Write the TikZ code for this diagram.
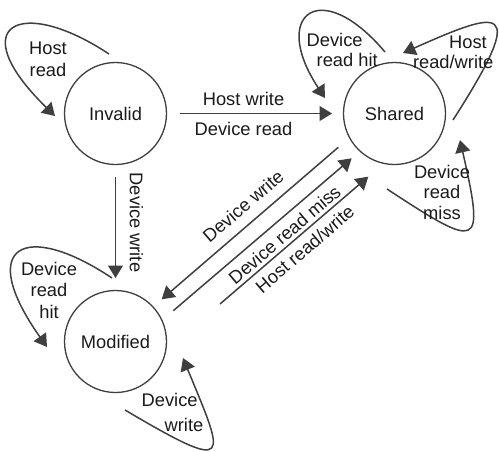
\documentclass[tikz,border=0pt]{standalone}
\usepackage{fontspec}
\setmainfont{Liberation Sans}
\usetikzlibrary{arrows.meta,calc}
\definecolor{ink}{HTML}{1A1A1A}
\definecolor{edge}{HTML}{3F3F3F}
\begin{document}
\begin{tikzpicture}[x=1pt,y=-1pt,
  font=\fontsize{18.3}{20.5}\selectfont,
  state/.style={circle, draw=edge, line width=1.3pt, minimum size=102pt, inner sep=0pt, text=ink},
  link/.style={draw=edge, line width=1.5pt, -{Triangle[length=12.5pt,width=15pt]}},
  lbl/.style={text=ink, inner sep=0pt},
  tag/.style={text=ink, inner xsep=0pt}]
\useasboundingbox (0,0) rectangle (499,451);

% states
\node[state] (inv) at (115.5,113.5) {Invalid};
\node[state] (sh)  at (394.5,113.5) {Shared};
\node[state] (mod) at (115.5,341.5) {Modified};

% end points of the transitions, kept a little away from the circles
\coordinate (i2s-a) at ([shift={(64.5,0)}]inv.center);
\coordinate (i2s-b) at ([shift={(-62.5,0)}]sh.center);
\coordinate (i2m-a) at ([shift={(0,63.5)}]inv.center);
\coordinate (i2m-b) at ([shift={(0,-63.5)}]mod.center);
\coordinate (s2m-a) at ([shift={(-56.2,33.8)}]sh.center);
\coordinate (s2m-b) at ([shift={(46.2,-42.2)}]mod.center);
\coordinate (m2s1-a) at ([shift={(57.8,-30.8)}]mod.center);
\coordinate (m2s1-b) at ([shift={(-42.8,44.8)}]sh.center);
\coordinate (m2s2-a) at ([shift={(104.5,-37.5)}]mod.center);
\coordinate (m2s2-b) at ([shift={(-26.2,63.2)}]sh.center);

% self loops
\coordinate (il-a) at ([shift={(-6.5,-59.5)}]inv.center);
\coordinate (il-b) at ([shift={(-60.5,2.5)}]inv.center);
\coordinate (sl1-a) at ([shift={(-9.5,-61.5)}]sh.center);
\coordinate (sl1-b) at ([shift={(-69.5,-15.5)}]sh.center);
\coordinate (sl2-a) at ([shift={(58.5,6.5)}]sh.center);
\coordinate (sl2-b) at ([shift={(8.5,-60.5)}]sh.center);
\coordinate (sl3-a) at ([shift={(-7.5,75.5)}]sh.center);
\coordinate (sl3-b) at ([shift={(65.5,26.5)}]sh.center);
\coordinate (ml1-a) at ([shift={(-3.5,-63.5)}]mod.center);
\coordinate (ml1-b) at ([shift={(-68.5,5.5)}]mod.center);
\coordinate (ml2-a) at ([shift={(9.5,68.5)}]mod.center);
\coordinate (ml2-b) at ([shift={(67.5,16.5)}]mod.center);

% straight transitions
\path[link] (i2s-a) -- node[tag, pos=.418, anchor=south, inner ysep=7.5pt] {Host write}
                       node[tag, pos=.418, anchor=north, inner ysep=7.5pt] {Device read} (i2s-b);
\path[link] (i2m-a) -- node[tag, pos=.45, rotate=-90, anchor=south, inner ysep=13.5pt] {Device write} (i2m-b);
\path[link] (s2m-a) -- node[tag, sloped, pos=.474, anchor=south, inner ysep=10pt] {Device write} (s2m-b);
\path[link] (m2s1-a) -- node[tag, sloped, pos=.571, anchor=north, inner ysep=7pt] {Device read miss} (m2s1-b);
\path[link] (m2s2-a) -- node[tag, sloped, pos=.512, anchor=north, inner ysep=6pt] {Host read/write} (m2s2-b);

% loops
\path[link] (il-a) .. controls +(-89,-59) and +(-93,-91) .. (il-b);
\path[link] (sl1-a) .. controls +(-65,-77) and +(-55,-83) .. (sl1-b);
\path[link] (sl2-a) .. controls +(77,-120) and +(97,-43) .. (sl2-b);
\path[link] (sl3-a) .. controls +(93,61) and +(25,110) .. (sl3-b);
\path[link] (ml1-a) .. controls +(-87,-58) and +(-72,-102) .. (ml1-b);
\path[link] (ml2-a) .. controls +(110,65) and +(42,102) .. (ml2-b);

% loop labels
\node[lbl, align=center] (t-il) at (48,59) {Host\\[1.5pt]read};
\node[lbl, align=left] (t-sl1) at (342.2,50) {Device\\\hspace*{10pt}read hit};
\node[lbl, align=right] (t-sl2) at (453.2,52.5) {Host\hspace*{6.6pt}\\read/write};
\node[lbl, align=center] (t-sl3) at (442,192) {Device\\read\\miss};
\node[lbl, align=center] (t-ml1) at (49,290) {Device\\[1pt]read\\[1pt]hit};
\node[lbl, align=left] (t-ml2) at (172.5,412.5) {Device\\[4.5pt]\hspace*{23pt}write};
\end{tikzpicture}
\end{document}
